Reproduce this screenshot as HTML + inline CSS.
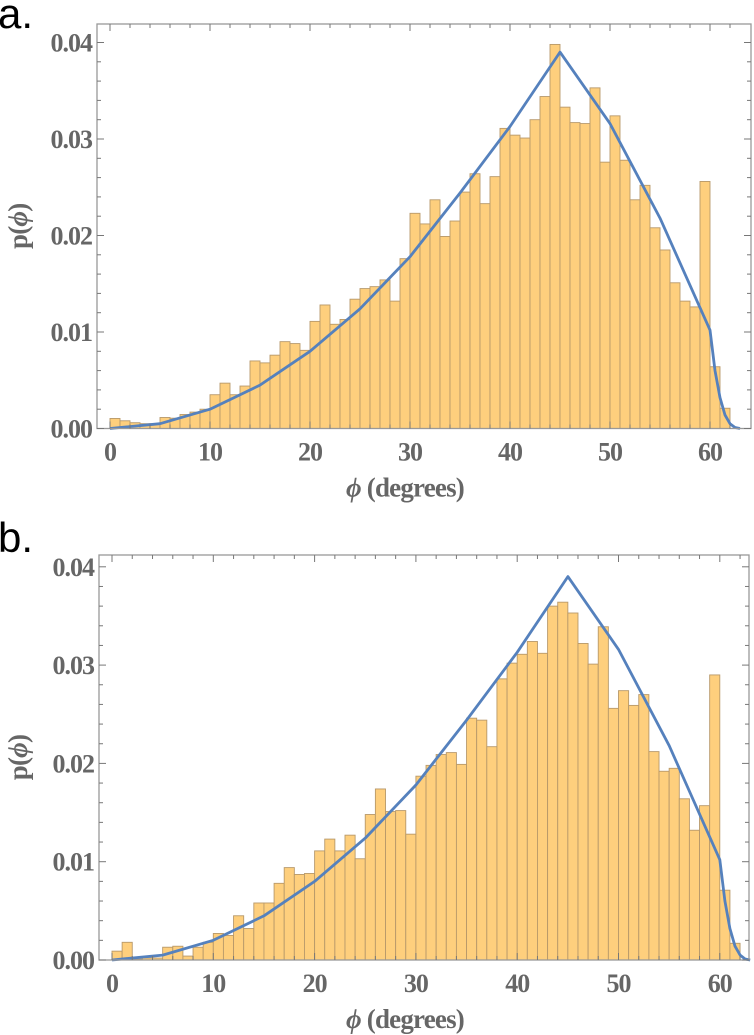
<!DOCTYPE html>
<html><head><meta charset="utf-8"><style>
html,body{margin:0;padding:0;background:#fff}
svg{display:block}
.tk{font-family:"Liberation Serif",serif;font-weight:bold;font-size:26px;letter-spacing:-1px;fill:#666}
.ttl{font-family:"Liberation Serif",serif;font-weight:bold;font-size:27px;letter-spacing:-0.8px;fill:#666}
.pl{font-family:"Liberation Sans",sans-serif;font-size:42px;fill:#000}
</style></head><body>
<svg id="chart" width="754" height="1035" viewBox="0 0 754 1035" xmlns="http://www.w3.org/2000/svg"></svg>
<script>
const histA = [0.00104,0.0008,0.0006,0.0005,0.0005,0.00114,0.00107,0.00145,0.0017,0.002,0.0035,0.0047,0.0035,0.0044,0.0070,0.0068,0.0076,0.0090,0.0088,0.0081,0.0111,0.0128,0.0108,0.0113,0.0134,0.0145,0.0147,0.0154,0.0132,0.0176,0.0223,0.0212,0.0237,0.0199,0.0215,0.0245,0.0264,0.0233,0.0261,0.0311,0.0304,0.0301,0.0320,0.0344,0.0398,0.0333,0.0317,0.0316,0.0353,0.0276,0.0324,0.0278,0.0237,0.0252,0.0208,0.0185,0.0151,0.0132,0.0126,0.0256,0.0064,0.0021];
const histB = [0.0009,0.0018,0.0001,0.0002,0.0002,0.0013,0.0014,0.0004,0.0013,0.0018,0.0027,0.0025,0.0045,0.0032,0.0058,0.0058,0.0078,0.0094,0.0087,0.0088,0.0111,0.0123,0.0111,0.0127,0.0103,0.0148,0.0174,0.0151,0.0152,0.0128,0.0187,0.0198,0.0209,0.0211,0.0199,0.0246,0.0244,0.0217,0.0286,0.0302,0.0311,0.0324,0.0312,0.0360,0.0364,0.0353,0.0322,0.0301,0.0339,0.0256,0.0274,0.0259,0.0270,0.0212,0.0192,0.0195,0.0164,0.0132,0.0157,0.0290,0.0071,0.0017];
const curveX = [0,5,10,15,20,25,30,35,40,45,50,55,60,60.5,61,61.5,62,62.5,63];
const curveY = [0,0.0005,0.002,0.0045,0.008,0.0124,0.0178,0.0244,0.0313,0.039,0.0316,0.0218,0.0102,0.006,0.0032,0.0014,0.0005,0.0001,0];
const xTicks = [0,10,20,30,40,50,60];
const yTicks = [0,0.01,0.02,0.03,0.04];
const yTickLabels = ["0.00","0.01","0.02","0.03","0.04"];

const NS="http://www.w3.org/2000/svg";
const svg=document.getElementById('chart');
function mk(tag,attrs,parent){const e=document.createElementNS(NS,tag);for(const k in attrs)e.setAttribute(k,attrs[k]);(parent||svg).appendChild(e);return e;}

function panel(P){
  const g=mk('g',{});
  
  
  const sx=v=>P.x0+v*P.kx;
  const sy=v=>P.y0-v*P.ky;
  P.hist.forEach((v,i)=>{
    const r=mk('rect',{x:sx(i),y:sy(v),width:P.kx,height:P.y0-sy(v),fill:'#fecf7d',stroke:'#b8996a','stroke-width':0.9},g);
    
    
  });
  const pts=curveX.map((x,i)=>sx(x).toFixed(1)+','+sy(curveY[i]).toFixed(1)).join(' ');
  const pl=mk('polyline',{points:pts,fill:'none',stroke:'#5581bd','stroke-width':2.8,'stroke-linejoin':'round'},g);
  
  
  const fr=mk('rect',{x:P.L,y:P.T,width:P.R-P.L,height:P.y0-P.T,fill:'none',stroke:'#999','stroke-width':1.3},g);
  
  
  for(let d=0;d<=62;d+=2){
    const major=d%10===0, len=major?7:4, x=sx(d);
    mk('line',{x1:x,x2:x,y1:P.y0,y2:P.y0-len,stroke:'#777','stroke-width':1},g);
    mk('line',{x1:x,x2:x,y1:P.T,y2:P.T+len,stroke:'#777','stroke-width':1},g);
  }
  xTicks.forEach(t=>{
    const tx=mk('text',{x:sx(t),y:P.y0+32,'text-anchor':'middle',class:'tk'},g);
    tx.textContent=t;
    
    
  });
  for(let k=0;k<=20;k++){
    const v=k*0.002, major=k%5===0, len=major?7:4, y=sy(v);
    if(y<P.T)continue;
    mk('line',{x1:P.L,x2:P.L+len,y1:y,y2:y,stroke:'#777','stroke-width':1},g);
    mk('line',{x1:P.R,x2:P.R-len,y1:y,y2:y,stroke:'#777','stroke-width':1},g);
  }
  yTicks.forEach((t,i)=>{
    const tx=mk('text',{x:P.L-5,y:sy(t)+9,'text-anchor':'end',class:'tk'},g);
    tx.textContent=yTickLabels[i];
    
    
  });
  const xt=mk('text',{x:405,y:P.y0+68,'text-anchor':'middle',class:'ttl'},g);
  xt.innerHTML='<tspan font-style="italic">ϕ</tspan> (degrees)';
  
  
  const cy=(P.T+P.y0)/2;
  const yt=mk('text',{x:27,y:cy,'text-anchor':'middle',class:'ttl',transform:`rotate(-90 27 ${cy})`},g);
  yt.innerHTML='p(<tspan font-style="italic">ϕ</tspan>)';
  
  
  const lb=mk('text',{x:-2,y:P.labY,class:'pl'},g);
  lb.textContent=P.label;
  
  
}

panel({name:'panel-a',hist:histA,x0:110,kx:10.0,y0:428.5,ky:9650,L:97,R:751,T:24,labY:28,label:'a.'});
panel({name:'panel-b',hist:histB,x0:112,kx:10.13,y0:960,ky:9830,L:99,R:749,T:555,labY:552,label:'b.'});
</script>
</body></html>
